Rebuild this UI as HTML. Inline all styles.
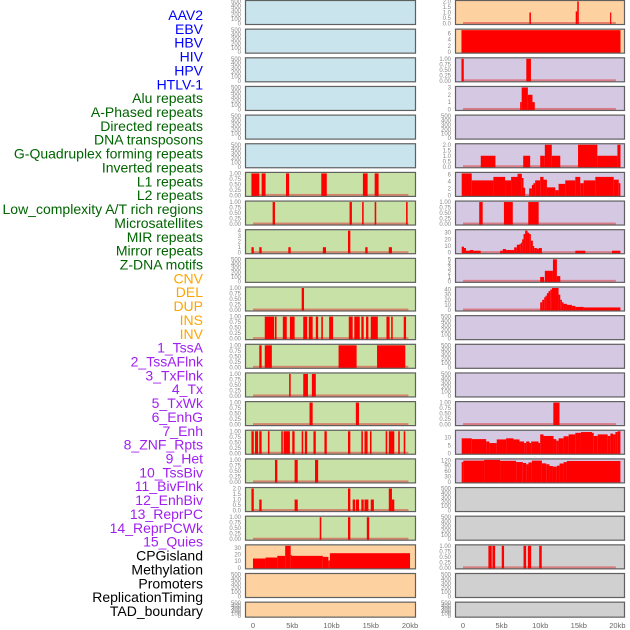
<!DOCTYPE html>
<html><head><meta charset="utf-8">
<style>
html,body{margin:0;padding:0;background:#fff;width:630px;height:630px;overflow:hidden}
svg{display:block}
.lab{font-family:"Liberation Sans",sans-serif;font-size:14px}
.tk{font-family:"Liberation Sans",sans-serif;font-size:6px;fill:#888}
.xt{font-family:"Liberation Sans",sans-serif;font-size:7.5px;fill:#666}
</style></head>
<body>
<svg id="chart" width="630" height="630" viewBox="0 0 630 630" xmlns="http://www.w3.org/2000/svg"></svg>
<script>
// ---- labels ----
const labels=["AAV2","EBV","HBV","HIV","HPV","HTLV-1","Alu repeats","A-Phased repeats","Directed repeats","DNA transposons","G-Quadruplex forming repeats","Inverted repeats","L1 repeats","L2 repeats","Low_complexity A/T rich regions","Microsatellites","MIR repeats","Mirror repeats","Z-DNA motifs","CNV","DEL","DUP","INS","INV","1_TssA","2_TssAFlnk","3_TxFlnk","4_Tx","5_TxWk","6_EnhG","7_Enh","8_ZNF_Rpts","9_Het","10_TssBiv","11_BivFlnk","12_EnhBiv","13_ReprPC","14_ReprPCWk","15_Quies","CPGisland","Methylation","Promoters","ReplicationTiming","TAD_boundary"];
const labelGroups=[6,13,5,15,5];
const groupColors=["#0000ff","#006400","#ffa500","#a020f0","#000000"];
const xTickValues=[0,5,10,15,20];
const xTickLabels=["0","5kb","10kb","15kb","20kb"];
const ticksEmpty=[0,100,200,300,400,500];
const ticksBin=[0,0.25,0.5,0.75,1];
const ticks2=[0,0.5,1,1.5,2];
// ---- left column segments [startKb,endKb,value] ----
const segL6=[[-0.2,0.8,1],[1.1,1.6,1],[4.2,4.6,1],[8.7,9.4,1],[14.0,14.6,1],[15.5,16.0,1]];
const segL7=[[2.5,2.8,1],[12.3,12.6,1],[13.9,14.1,1],[15.5,15.7,1],[19.5,19.7,1]];
const segL8=[[-0.2,0.1,1],[0.8,1.1,1],[4.5,4.8,1],[8.9,9.3,1],[12.1,12.4,4],[14.3,14.6,1],[17.3,17.7,1]];
const segL10=[[6.2,6.5,1]];
const segL11=[[1.5,2.7,1],[2.8,3.0,1],[3.8,4.3,1],[4.7,5.3,1],[6.4,6.9,1],[7.1,7.6,1],[8.0,8.3,1],[8.7,8.9,1],[9.7,10.2,1],[12.2,12.7,1],[12.9,13.6,1],[13.8,14.1,1],[14.4,14.7,1],[15.0,15.9,1],[17.0,17.4,1],[17.6,17.8,1],[19.2,19.5,1]];
const segL12=[[0.8,1.1,1],[1.5,2.4,1],[10.9,13.2,1],[15.8,19.4,1]];
const segL13=[[4.6,4.8,1],[6.4,7.0,1],[7.5,8.0,1]];
const segL14=[[7.2,7.6,1],[13.1,13.5,1]];
const segL15=[[-0.2,0.1,1],[0.25,0.65,1],[0.8,1.1,1],[1.9,2.1,1],[3.6,3.8,1],[3.9,4.7,1],[5.0,5.3,1],[6.2,6.4,1],[6.6,6.9,1],[7.7,8.0,1],[9.1,9.4,1],[12.1,12.4,1],[13.8,14.0,1],[14.2,14.6,1],[14.9,15.1,1],[16.9,17.1,1],[17.3,18.0,1],[18.5,18.7,1],[19.2,19.4,1]];
const segL16=[[2.8,3.1,1],[5.3,5.7,1],[7.9,8.3,1]];
const segL17=[[-0.2,0.1,2],[0.8,1.1,1],[5.3,5.7,1],[12.1,12.4,2],[12.7,13.0,1],[13.1,13.5,1],[13.8,14.1,1],[14.2,14.7,1],[15.0,15.4,1],[17.3,17.7,2],[17.7,18.0,1]];
const segL18=[[8.5,8.7,1],[12.1,12.4,1],[14.5,14.8,1]];
const segL19=[[0,1.6,14],[1.6,3.1,15.5],[3.1,4.1,18],[4.1,4.8,33],[4.8,4.9,19],[4.9,8.9,18],[8.9,9.6,16.5],[9.6,9.8,11],[9.8,20,22]];
// ---- right column segments ----
const segR0=[[8.6,8.8,1],[14.6,14.8,1.1],[14.8,15.0,2],[19.05,19.2,1]];
const segR1=[[-0.2,20.4,7]];
const segR2=[[-0.2,0.1,1],[8.2,8.8,1]];
const segR3=[[7.4,7.6,1],[7.6,8.4,3],[8.4,9.0,2],[9.0,9.3,1]];
const segR5=[[2.3,4.2,1],[7.8,8.7,1],[10.0,10.6,1],[10.6,11.5,2],[11.5,12.6,1],[14.9,17.4,2],[17.4,20.0,1],[20.0,20.4,2]];
const segR6=[[-0.17,1.13,6.3],[1.13,3.94,4.3],[3.94,5.45,5.3],[5.45,6.23,4.3],[6.23,7.06,5.3],[7.06,7.62,6.2],[7.62,7.84,5],[7.84,8.05,2.2],[8.57,8.92,2],[8.92,9.13,3],[9.13,9.35,3.5],[9.35,10.0,4.3],[10.0,10.43,5.3],[10.43,10.87,4.5],[10.87,11.95,2.3],[11.95,12.38,1.5],[12.38,13.25,3.3],[13.25,14.55,4.3],[14.55,15.19,5.3],[15.19,15.63,3.5],[15.63,17.14,4.3],[17.14,19.52,5.3],[19.52,20.17,4.5],[20.17,20.39,3.5]];
const segR7=[[2.1,2.55,1],[5.3,6.45,1],[8.45,9.8,1]];
const segR8=[[-0.17,0.13,9],[0.13,0.39,7],[0.39,0.91,3],[0.91,1.34,4],[1.34,2.29,3],[4.81,5.15,3],[5.15,5.58,5.5],[5.58,6.62,4],[6.62,6.97,8],[6.97,7.32,12],[7.32,7.49,13],[7.49,7.66,15],[7.66,7.84,20],[7.84,8.05,28],[8.05,8.36,33],[8.36,8.57,30],[8.57,8.79,28],[8.79,9.05,18],[9.05,9.22,10],[9.22,9.57,7],[9.57,9.83,6],[9.83,10.22,7],[14.55,15.84,3],[19.3,20.39,3]];
const segR9=[[10.0,10.5,1],[10.6,11.65,2.4],[11.65,12.16,5],[12.16,12.6,1.2]];
const segR10=[[10.0,10.26,15],[10.26,10.52,20],[10.52,10.69,25],[10.69,10.87,28],[10.87,11.08,33],[11.08,11.3,37],[11.3,11.52,40],[11.52,12.38,43],[12.38,12.6,30],[12.6,12.81,20],[12.81,13.03,15],[13.03,13.46,12],[13.46,14.11,10],[14.11,14.55,8],[14.55,15.63,6],[15.63,20.39,5]];
const segR14=[[11.7,12.5,1]];
const segR15=[[-0.17,1.13,9.5],[1.13,3.0,9],[3.0,3.42,7.5],[3.42,4.37,6.5],[4.37,5.58,8.8],[5.58,6.54,9.5],[6.54,7.32,8.8],[7.32,7.92,7.5],[7.92,8.18,6.5],[8.18,8.61,7.5],[8.61,8.83,6.5],[8.83,9.78,7.5],[9.78,10.0,6.5],[10.0,10.43,12],[10.43,11.73,11],[11.73,12.08,9],[12.08,12.38,8],[12.38,13.03,9.5],[13.03,13.68,10.8],[13.68,14.55,12],[14.55,15.28,13],[15.28,16.71,13.5],[16.71,16.93,13],[16.93,17.45,11],[17.45,18.74,12],[18.74,19.09,11],[19.09,19.44,12.5],[19.44,19.74,12],[19.74,20.04,13.5],[20.04,20.39,14]];
const segR16=[[-0.17,0.04,110],[0.04,2.73,118],[2.73,4.8,122],[4.8,6.88,117],[6.88,7.75,110],[7.75,8.18,105],[8.18,8.48,98],[8.48,8.92,108],[8.92,10.22,118],[10.22,10.78,103],[10.78,11.21,98],[11.21,11.65,88],[11.65,12.16,85],[12.16,12.51,90],[12.51,13.03,102],[13.03,13.46,110],[13.46,20.39,116]];
const segR19=[[3.29,3.72,1],[3.81,4.16,1],[5.02,5.32,1],[7.84,8.18,1],[8.4,8.83,1],[9.87,10.2,1]];

const BLUE="#c9e4ec",GREEN="#c8e1a6",ORANGE="#fed1a0",PURPLE="#d5c8e2",GRAY="#d0d0d0";
const leftPanels=[
 [BLUE,500,ticksEmpty,[]],[BLUE,500,ticksEmpty,[]],[BLUE,500,ticksEmpty,[]],[BLUE,500,ticksEmpty,[]],[BLUE,500,ticksEmpty,[]],[BLUE,500,ticksEmpty,[]],
 [GREEN,1,ticksBin,segL6],[GREEN,1,ticksBin,segL7],[GREEN,4,[0,1,2,3,4],segL8],[GREEN,500,ticksEmpty,[]],[GREEN,1,ticksBin,segL10],
 [GREEN,1,ticksBin,segL11],[GREEN,1,ticksBin,segL12],[GREEN,1,ticksBin,segL13],[GREEN,1,ticksBin,segL14],[GREEN,1,ticksBin,segL15],
 [GREEN,1,ticksBin,segL16],[GREEN,2,ticks2,segL17],[GREEN,1,ticksBin,segL18],
 [ORANGE,33,[0,10,20,30],segL19],[ORANGE,500,ticksEmpty,[]],[ORANGE,500,ticksEmpty,[]]
];
const rightPanels=[
 [ORANGE,2,ticks2,segR0],[ORANGE,7,[0,2,4,6],segR1],
 [PURPLE,1,ticksBin,segR2],[PURPLE,3,[0,1,2,3],segR3],[PURPLE,500,ticksEmpty,[]],[PURPLE,2,ticks2,segR5],
 [PURPLE,6.3,[0,2,4,6],segR6],[PURPLE,1,ticksBin,segR7],[PURPLE,33,[0,10,20,30],segR8],[PURPLE,5,[0,1,2,3,4,5],segR9],
 [PURPLE,43,[0,10,20,30,40],segR10],[PURPLE,500,ticksEmpty,[]],[PURPLE,500,ticksEmpty,[]],[PURPLE,500,ticksEmpty,[]],
 [PURPLE,1,ticksBin,segR14],[PURPLE,14,[0,5,10],segR15],[PURPLE,122,[0,30,60,90,120],segR16],
 [GRAY,500,ticksEmpty,[]],[GRAY,500,ticksEmpty,[]],[GRAY,1,ticksBin,segR19],[GRAY,500,ticksEmpty,[]],[GRAY,500,ticksEmpty,[]]
];

const NS="http://www.w3.org/2000/svg";
const svg=document.getElementById('chart');
function mk(tag,attrs,parent){const e=document.createElementNS(NS,tag);for(const k in attrs)e.setAttribute(k,attrs[k]);(parent||svg).appendChild(e);return e;}

// labels
let li=0;
labelGroups.forEach((n,g)=>{for(let j=0;j<n;j++){
  const t=mk('text',{x:203,y:15+li*13.86+5,'text-anchor':'end',class:'lab',fill:groupColors[g]});
  t.textContent=labels[li];
  
  
  li++;}});

const cols=[{x0:245,x1:416,zero:253,ppk:7.85,tickX:241,panels:leftPanels,name:'left'},
            {x0:455,x1:625,zero:463,ppk:7.72,tickX:451,panels:rightPanels,name:'right'}];
function fmt(v,ticks){let d=0;ticks.forEach(t=>{const s=String(t);if(s.includes('.'))d=Math.max(d,s.split('.')[1].length);});
  if(ticks.some(t=>t%1!==0)&&d===1&&ticks.includes(0.25))d=2;return v.toFixed(d);}

cols.forEach(c=>{
  const xs=kb=>c.zero+kb*c.ppk;
  c.panels.forEach((p,i)=>{
    const top=i*28.65, h=(i===21)?16:25, bot=top+h;
    const [bg,ymax,ticks,seg]=p;
    const g=mk('g',{});
    
    
    const y0=bot-1.5, y1=top+1.5;
    const ys=v=>y0-(Math.min(v,ymax)/ymax)*(y0-y1);
    mk('rect',{x:c.x0,y:top+0.5,width:c.x1-c.x0,height:h-1,fill:bg},g);
    if(seg.length){
      const bl=mk('rect',{x:xs(0),y:y0-1.5,width:xs(19.8)-xs(0),height:2,fill:'rgba(220,60,60,0.55)'},g);
      
      
    }
    seg.forEach(s=>{
      const a=Math.max(xs(s[0]),c.x0+1),b=Math.min(xs(s[1]),c.x1-1);
      const r=mk('rect',{x:a,y:ys(s[2]),width:Math.max(b-a,1.2),height:y0-ys(s[2])+1,fill:'#ff0000'},g);
      
      
    });
    mk('rect',{x:c.x0+0.5,y:top+0.5,width:c.x1-c.x0-1,height:h-1,fill:'none',stroke:'#606060','stroke-width':1.2},g);
    ticks.forEach(t=>{
      const tt=mk('text',{x:c.tickX,y:ys(t)+2,'text-anchor':'end',class:'tk'},g);
      tt.textContent=fmt(t,ticks);
      
      
    });
  });
  xTickValues.forEach((v,k)=>{
    const t=mk('text',{x:xs(v),y:628,'text-anchor':'middle',class:'xt'});
    t.textContent=xTickLabels[k];
    
    
  });
});
</script>
</body></html>
